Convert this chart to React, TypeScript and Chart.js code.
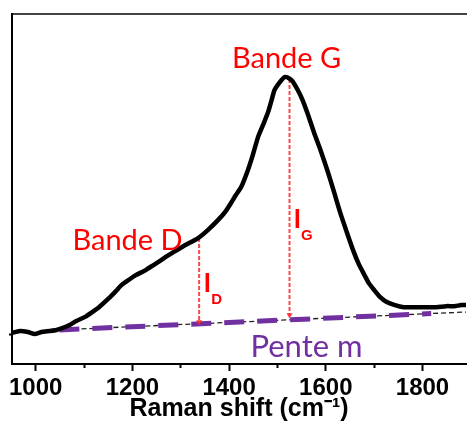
import React, { useEffect, useRef } from 'react';
import { Chart, registerables } from 'chart.js';

Chart.register(...registerables);

// Raman spectrum
const ramanShift = [
  951, 967, 984, 998, 1012, 1029, 1043, 1055, 1070, 1084, 1101, 1117, 1131, 1152, 1166, 1178,
  1193, 1207, 1224, 1234, 1250, 1269, 1285, 1306, 1336, 1356, 1377, 1392, 1404, 1414, 1425,
  1439, 1449, 1460, 1470, 1480, 1488, 1494, 1505, 1515, 1523, 1531, 1542, 1552, 1562, 1576,
  1589, 1603, 1617, 1630, 1644, 1658, 1669, 1679, 1689, 1700, 1712, 1726, 1743, 1761, 1777,
  1794, 1812, 1829, 1849, 1866, 1880, 1890,
];
const intensity = [
  0.004, 0.012, 0.008, 0.0, 0.008, 0.012, 0.016, 0.023, 0.035, 0.051, 0.066, 0.086, 0.105,
  0.141, 0.168, 0.192, 0.212, 0.23, 0.246, 0.258, 0.277, 0.301, 0.32, 0.344, 0.375, 0.406,
  0.445, 0.477, 0.512, 0.543, 0.574, 0.641, 0.699, 0.77, 0.816, 0.863, 0.914, 0.953, 0.984,
  1.004, 1.0, 0.988, 0.953, 0.914, 0.863, 0.785, 0.719, 0.641, 0.555, 0.473, 0.395, 0.32,
  0.27, 0.234, 0.199, 0.172, 0.145, 0.125, 0.113, 0.105, 0.105, 0.105, 0.105, 0.105, 0.109,
  0.109, 0.113, 0.113,
];

// Linear background (thin black dashes) and slope "Pente m" (purple dashes)
const baselineShift = [1045, 1890];
const baselineIntensity = [0.016, 0.086];
const slopeShift = [1049, 1818];
const slopeIntensity = [0.016, 0.08];

// Intensity markers I_D and I_G
const dBandShift = [1338, 1338];
const dBandIntensity = [0.375, 0.047];
const gBandShift = [1525, 1525];
const gBandIntensity = [0.996, 0.074];

const xTickValues = [1000, 1100, 1200, 1300, 1400, 1500, 1600, 1700, 1800];
const xLabelled = [1000, 1200, 1400, 1600, 1800];
const yTickValues = [0];

const X_MIN = 951;
const X_MAX = 1890;
const Y_MIN = -0.117;
const Y_MAX = 1.25;

const pts = (xs: number[], ys: number[]) => xs.map((x, i) => ({ x, y: ys[i] }));

const annotations = {
  id: 'annotations',
  afterDatasetsDraw(chart: any) {
    const { ctx, scales } = chart;
    const x = scales.x;
    const y = scales.y;
    ctx.save();
    ctx.textBaseline = 'alphabetic';
    ctx.textAlign = 'center';
    ctx.fillStyle = '#FF0000';
    ctx.font = '29px Lato';
    ctx.fillText('Bande G', x.getPixelForValue(1519), y.getPixelForValue(1.039));
    ctx.fillText('Bande D', x.getPixelForValue(1190), y.getPixelForValue(0.328));
    ctx.fillStyle = '#7030A0';
    ctx.font = '31px Lato';
    ctx.fillText('Pente m', x.getPixelForValue(1560), y.getPixelForValue(-0.09));

    const drawI = (sub: string, xv: number, yv: number) => {
      const px = x.getPixelForValue(xv);
      const py = y.getPixelForValue(yv);
      ctx.fillStyle = '#FF0000';
      ctx.textAlign = 'left';
      ctx.font = 'bold 26px Lato';
      ctx.fillText('I', px, py);
      const w = ctx.measureText('I').width;
      ctx.font = 'bold 15px "Liberation Sans"';
      ctx.fillText(sub, px + w, py + 12);
    };
    drawI('D', 1347, 0.164);
    drawI('G', 1533, 0.414);
    ctx.restore();
  },
};

export default function App() {
  const canvasRef = useRef<HTMLCanvasElement | null>(null);

  useEffect(() => {
    if (!canvasRef.current) return;
    const markerRadius = (ctx: any) => (ctx.dataIndex === 1 ? 3.5 : 0);
    const chart = new Chart(canvasRef.current, {
      type: 'line',
      data: {
        datasets: [
          {
            label: 'Spectre',
            data: pts(ramanShift, intensity),
            borderColor: '#000000',
            borderWidth: 4.5,
            pointRadius: 0,
            tension: 0.2,
            borderJoinStyle: 'round',
            borderCapStyle: 'round',
          },
          {
            label: 'I_D',
            data: pts(dBandShift, dBandIntensity),
            borderColor: 'rgba(255,40,40,0.85)',
            backgroundColor: 'rgba(255,40,40,0.9)',
            borderWidth: 2,
            borderDash: [4, 2],
            pointRadius: markerRadius,
            pointStyle: 'triangle',
            rotation: 180,
            pointBorderWidth: 0,
          },
          {
            label: 'I_G',
            data: pts(gBandShift, gBandIntensity),
            borderColor: 'rgba(255,40,40,0.85)',
            backgroundColor: 'rgba(255,40,40,0.9)',
            borderWidth: 2,
            borderDash: [4, 2],
            pointRadius: markerRadius,
            pointStyle: 'triangle',
            rotation: 180,
            pointBorderWidth: 0,
          },
          {
            label: 'Pente m',
            data: pts(slopeShift, slopeIntensity),
            borderColor: '#7030A0',
            borderWidth: 5,
            borderDash: [20, 13],
            pointRadius: 0,
          },
          {
            label: 'Fond',
            data: pts(baselineShift, baselineIntensity),
            borderColor: '#222222',
            borderWidth: 1.3,
            borderDash: [5, 3],
            pointRadius: 0,
          },
        ],
      },
      options: {
        animation: false,
        responsive: false,
        events: [],
        layout: { padding: { left: 9, right: 0, top: 14, bottom: 20 } },
        plugins: { legend: { display: false }, tooltip: { enabled: false } },
        scales: {
          x: {
            type: 'linear',
            position: 'bottom',
            min: X_MIN,
            max: X_MAX,
            afterBuildTicks: (axis: any) => {
              axis.ticks = xTickValues.map((v) => ({ value: v }));
            },
            ticks: {
              autoSkip: false,
              maxRotation: 0,
              color: '#000000',
              padding: 5.5,
              font: { family: '"Liberation Sans", Arial', size: 24, weight: 'bold', lineHeight: 1 },
              callback: (v: any) => (xLabelled.includes(Number(v)) ? String(v) : ''),
            },
            grid: {
              drawOnChartArea: false,
              drawTicks: true,
              tickLength: 7,
              tickWidth: 2,
              tickColor: '#000000',
              tickBorderDash: (ctx: any) =>
                ctx.tick && xLabelled.includes(ctx.tick.value) ? [] : [3, 100],
            },
            border: { display: true, color: '#000000', width: 2 },
            title: {
              display: true,
              text: 'Raman shift (cm⁻¹)',
              color: '#000000',
              font: { family: '"Liberation Sans", Arial', size: 25, weight: 'bold', lineHeight: 0.24 },
              padding: { top: 0, bottom: 0 },
            },
          },
          xTop: {
            type: 'linear',
            position: 'top',
            min: X_MIN,
            max: X_MAX,
            ticks: { display: false },
            grid: { display: false, drawTicks: false },
            border: { display: true, color: '#444444', width: 2 },
          },
          y: {
            type: 'linear',
            min: Y_MIN,
            max: Y_MAX,
            afterBuildTicks: (axis: any) => {
              axis.ticks = yTickValues.map((v) => ({ value: v }));
            },
            ticks: { display: false },
            grid: {
              drawOnChartArea: false,
              drawTicks: true,
              tickLength: 3,
              tickWidth: 2,
              tickColor: '#000000',
            },
            border: { display: true, color: '#000000', width: 2 },
          },
        },
      },
      plugins: [annotations],
    } as any);
    return () => chart.destroy();
  }, []);

  return (
    <div style={{ position: 'fixed', left: 0, top: 0, width: 470, height: 432, background: '#ffffff' }}>
      <canvas ref={canvasRef} width={470} height={432} style={{ width: 470, height: 432, display: 'block' }} />
    </div>
  );
}
